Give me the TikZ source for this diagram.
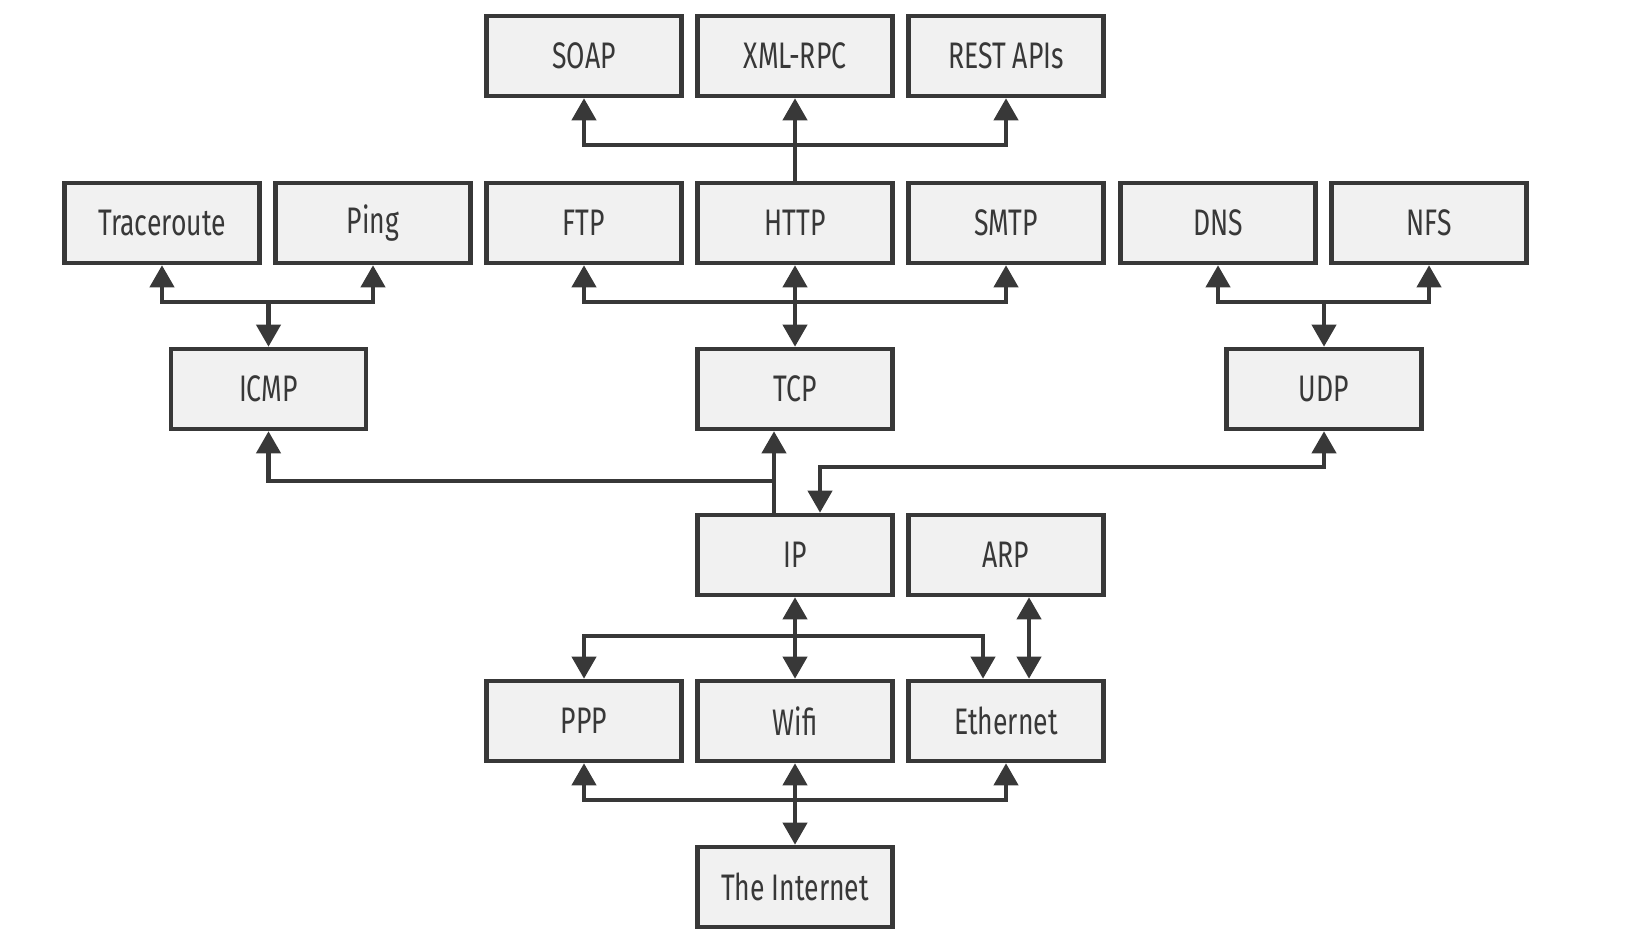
\documentclass[tikz,border=0pt]{standalone}
\usepackage{fontspec}
\setmainfont{Fira Sans}[FakeStretch=0.72]
\usepackage{tikz}
\usetikzlibrary{arrows.meta}

\definecolor{boxfill}{HTML}{F1F1F1}
\definecolor{boxline}{HTML}{383838}

\tikzset{
  layer/.style={draw=boxline, fill=boxfill, line width=1.3pt,
    minimum width=1.95cm, minimum height=0.8cm, inner sep=0pt,
    text=boxline, font=\fontsize{10.5}{12}\selectfont},
  link/.style={draw=boxline, line width=1.15pt},
  tip/.style={link, -{Triangle[width=0.24cm,length=0.22cm]}},
  tips/.style={link, {Triangle[width=0.24cm,length=0.22cm]}-{Triangle[width=0.24cm,length=0.22cm]}}
}

\begin{document}
\begin{tikzpicture}
  \useasboundingbox (0,0) rectangle (16.38,9.42);

  \foreach \name/\x/\txt in {soap/5.84/SOAP, xmlrpc/7.95/XML-RPC, rest/10.06/REST APIs}
    \node[layer] (\name) at (\x,8.86) {\txt};

  \foreach \name/\x/\txt in {trace/1.62/Traceroute, ping/3.73/Ping, ftp/5.84/FTP,
      http/7.95/HTTP, smtp/10.06/SMTP, dns/12.18/DNS, nfs/14.29/NFS}
    \node[layer] (\name) at (\x,7.19) {\txt};

  \node[layer] (icmp) at (2.685,5.53) {ICMP};
  \node[layer] (tcp) at (7.95,5.53) {TCP};
  \node[layer] (udp) at (13.24,5.53) {UDP};

  \node[layer] (ip) at (7.95,3.87) {IP};
  \node[layer] (arp) at (10.06,3.87) {ARP};

  \node[layer] (ppp) at (5.84,2.21) {PPP};
  \node[layer] (wifi) at (7.95,2.21) {Wifi};
  \node[layer] (eth) at (10.06,2.21) {Ethernet};

  \node[layer] (inet) at (7.95,0.55) {The Internet};

  \path (http.north) ++(0,0.36) coordinate (webbus);
  \draw[link] (http.north) -- (webbus);
  \draw[tip] (webbus) -- (xmlrpc.south);
  \draw[tip] (webbus) -| (soap.south);
  \draw[tip] (webbus) -| (rest.south);

  \path (icmp.north) ++(0,0.45) coordinate (icmpbus);
  \draw[tip] (icmpbus) -- (icmp.north);
  \draw[tip] (icmpbus) -| (trace.south);
  \draw[tip] (icmpbus) -| (ping.south);

  \path (tcp.north) ++(0,0.45) coordinate (tcpbus);
  \draw[tips] (http.south) -- (tcp.north);
  \draw[tip] (tcpbus) -| (ftp.south);
  \draw[tip] (tcpbus) -| (smtp.south);

  \path (udp.north) ++(0,0.45) coordinate (udpbus);
  \draw[tip] (udpbus) -- (udp.north);
  \draw[tip] (udpbus) -| (dns.south);
  \draw[tip] (udpbus) -| (nfs.south);

  \path ([xshift=-0.21cm]ip.north) ++(0,0.32) coordinate (ipjoin);
  \draw[tip] ([xshift=-0.21cm]ip.north) -- ([xshift=-0.21cm]tcp.south);
  \draw[tip] (ipjoin) -| (icmp.south);
  \draw[tips] (udp.south) |- ([xshift=0.25cm,yshift=0.46cm]ip.north) -- ([xshift=0.25cm]ip.north);

  \path (wifi.north) ++(0,0.43) coordinate (linkbus);
  \draw[tips] (ip.south) -- (wifi.north);
  \draw[tip] (linkbus) -| (ppp.north);
  \draw[tip] (linkbus) -| ([xshift=-0.23cm]eth.north);
  \draw[tips] ([xshift=0.23cm]arp.south) -- ([xshift=0.23cm]eth.north);

  \path (inet.north) ++(0,0.45) coordinate (netbus);
  \draw[tips] (wifi.south) -- (inet.north);
  \draw[tip] (netbus) -| (ppp.south);
  \draw[tip] (netbus) -| (eth.south);
\end{tikzpicture}
\end{document}
